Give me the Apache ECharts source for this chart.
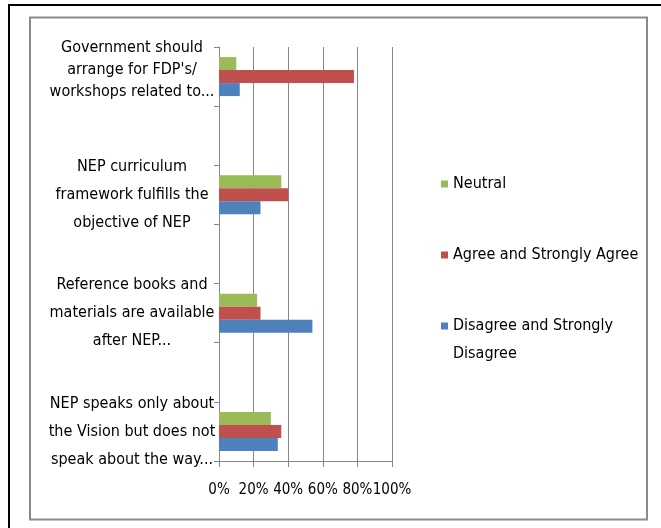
<!DOCTYPE html>
<html>
<head>
<meta charset="utf-8">
<script src="https://cdn.jsdelivr.net/npm/echarts@6/dist/echarts.min.js"></script>
<style>
html,body{margin:0;padding:0;background:#fff;}
#chart{width:661px;height:528px;}
</style>
</head>
<body>
<div id="chart"></div>
<script>
// Categories listed bottom-to-top (Excel order); blank entries are empty spacer rows
var categories = [
  'NEP speaks only about\nthe Vision but does not\nspeak about the way...',
  '',
  'Reference books and\nmaterials are available\nafter NEP...',
  '',
  'NEP curriculum\nframework fulfills the\nobjective of NEP',
  '',
  "Government should\narrange for FDP's/\nworkshops related to..."
];
var disagree = [0.34, null, 0.54, null, 0.24, null, 0.12];
var agree    = [0.36, null, 0.24, null, 0.40, null, 0.78];
var neutral  = [0.30, null, 0.22, null, 0.36, null, 0.10];
var xTicks = ['0%', '20%', '40%', '60%', '80%', '100%'];

var FONT = '"Liberation Sans Narrow", "DejaVu Sans Condensed", sans-serif';
var chart = echarts.init(document.getElementById('chart'), null, {renderer: 'canvas'});

function legendCommon(name, top, extra) {
  var l = {
    data: [name],
    orient: 'vertical',
    left: 441,
    top: top,
    padding: 0,
    itemWidth: 7,
    itemHeight: 7,
    icon: 'rect',
    textStyle: {fontFamily: FONT, fontSize: 16, color: '#000', lineHeight: 28}
  };
  if (extra) { for (var k in extra) l[k] = extra[k]; }
  return l;
}

var option = {
  animation: false,
  backgroundColor: '#fff',
  grid: {left: 219, right: 269, top: 47, bottom: 67, containLabel: false, outerBoundsMode: 'none'},
  legend: [
    legendCommon('Neutral', 170),
    legendCommon('Agree and Strongly Agree', 241),
    legendCommon('Disagree and Strongly Disagree', 312, {
      itemHeight: 35,
      icon: 'path://M0,0h7v7h-7zM0,34.99h0.01v0.01h-0.01z',
      formatter: function () { return 'Disagree and Strongly\nDisagree'; }
    })
  ],
  xAxis: {
    type: 'value',
    min: 0, max: 1, interval: 0.2,
    axisLine: {show: true, lineStyle: {color: '#878787', width: 1}},
    axisTick: {show: true, length: 6, lineStyle: {color: '#878787'}},
    splitLine: {show: true, lineStyle: {color: '#878787', width: 1}},
    axisLabel: {
      margin: 22,
      hideOverlap: false,
      showMinLabel: true,
      showMaxLabel: true,
      fontFamily: FONT, fontSize: 15, color: '#000',
      formatter: function (v) { return xTicks[Math.round(v / 0.2)]; }
    }
  },
  yAxis: {
    type: 'category',
    data: categories,
    axisLine: {show: true, lineStyle: {color: '#878787', width: 1}},
    axisTick: {show: true, length: 5, lineStyle: {color: '#878787'}},
    axisLabel: {
      interval: 0,
      margin: 87,
      align: 'center',
      fontFamily: FONT, fontSize: 16, color: '#000', lineHeight: 28,
      formatter: function (v, i) {
        if (i === categories.length - 1) {
          return v.split('\n').map(function (s) { return '{t|' + s + '}'; }).join('\n') + '\n{e| }';
        }
        return v;
      },
      rich: {
        t: {lineHeight: 22, align: 'center', fontFamily: FONT, fontSize: 16, color: '#000'},
        e: {lineHeight: 14, fontSize: 8}
      }
    }
  },
  series: [
    {name: 'Neutral', type: 'bar', data: neutral, barWidth: 13, barGap: '0%', itemStyle: {color: '#9BBB59'}},
    {name: 'Agree and Strongly Agree', type: 'bar', data: agree, barWidth: 13, barGap: '0%', itemStyle: {color: '#C0504D'}},
    {name: 'Disagree and Strongly Disagree', type: 'bar', data: disagree, barWidth: 13, barGap: '0%', itemStyle: {color: '#4F81BD'}}
  ],
  graphic: [
    {type: 'rect', shape: {x: 9, y: 5, width: 700, height: 600}, style: {fill: 'none', stroke: '#000', lineWidth: 2}, silent: true},
    {type: 'rect', shape: {x: 30, y: 17.5, width: 617, height: 502}, style: {fill: 'none', stroke: '#8a8a8a', lineWidth: 2}, silent: true}
  ]
};
chart.setOption(option);
</script>
</body>
</html>
